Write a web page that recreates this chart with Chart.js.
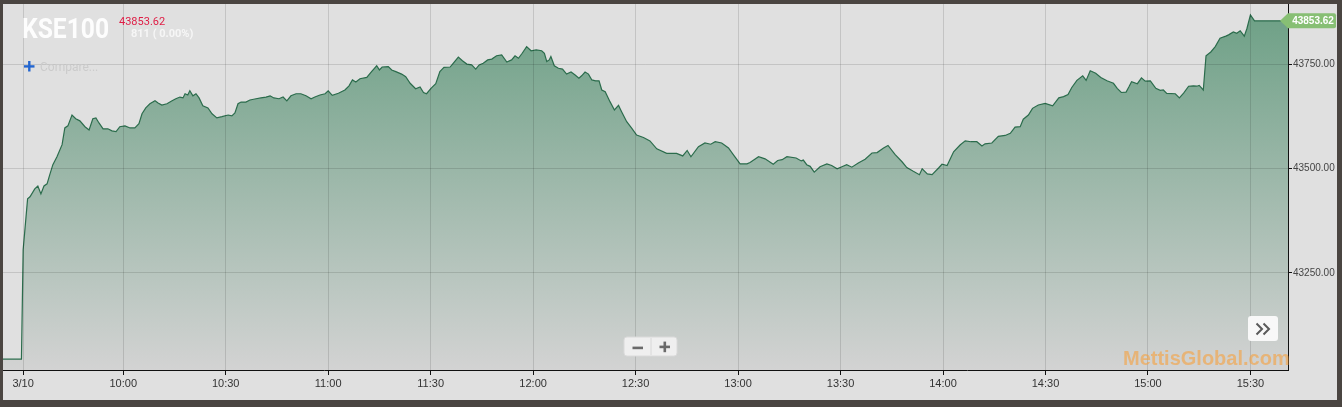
<!DOCTYPE html>
<html lang="en">
<head>
<meta charset="UTF-8">
<title>KSE100</title>
<script src="https://cdn.jsdelivr.net/npm/chart.js"></script>
<style>
    html, body { margin: 0; padding: 0; }
    body {
        width: 1342px;
        height: 407px;
        background: #4a4541;
        overflow: hidden;
        position: relative;
        font-family: 'Liberation Sans', Arial, sans-serif;
    }
    .frame {
        position: absolute;
        left: 3px;
        top: 4px;
        width: 1334px;
        height: 396px;
        background: #e0e0e0;
    }
    .sym {
        position: absolute;
        left: 22px;
        top: 15px;
        font: bold 28px/28px Roboto, sans-serif;
        color: #fdfdfd;
        transform: scaleX(0.88);
        transform-origin: 0 0;
    }
    .price {
        position: absolute;
        left: 119px;
        top: 16px;
        font: 11px/11px Roboto, sans-serif;
        color: #df1d45;
    }
    .change {
        position: absolute;
        left: 131px;
        top: 28px;
        font: bold 11px/11px Roboto, sans-serif;
        color: #f6f6f6;
    }
    .compare {
        position: absolute;
        left: 40px;
        top: 61px;
        font: 12px/12px Roboto, sans-serif;
        color: #cbcbcb;
    }
    .watermark {
        position: absolute;
        left: 1123px;
        top: 348px;
        font: bold 20px/20px 'Liberation Sans', Arial, sans-serif;
        color: rgba(247, 160, 60, 0.6);
    }
    svg { position: absolute; }
</style>
</head>
<body>
<div class="frame"><canvas id="kse"></canvas></div>

<div class="sym">KSE100</div>
<div class="price">43853.62</div>
<div class="change">811 ( 0.00%)</div>
<svg style="left:24px;top:61px" width="11" height="11">
    <rect x="0" y="4.2" width="10.5" height="2.4" fill="#2466d0"/>
    <rect x="4.1" y="0" width="2.4" height="10.5" fill="#2466d0"/>
</svg>
<div class="compare">Compare...</div>

<!-- zoom buttons -->
<svg style="left:622px;top:335px" width="58" height="24">
    <rect x="2" y="2" width="53" height="19" rx="3" fill="#efefef" stroke="#dadada"/>
    <line x1="29" y1="3" x2="29" y2="20" stroke="#d8d8d8"/>
    <rect x="10.5" y="11.6" width="10.5" height="2.6" fill="#6a6a6a"/>
    <rect x="37.5" y="10.6" width="10.5" height="2.6" fill="#6a6a6a"/>
    <rect x="41.5" y="6.6" width="2.6" height="10.6" fill="#6a6a6a"/>
</svg>

<!-- scroll right button -->
<svg style="left:1246px;top:314px" width="34" height="30">
    <rect x="2" y="2" width="30" height="25" rx="3" fill="#f8f8f8"/>
    <polyline points="10.5,9.5 16,15 10.5,20.5" fill="none" stroke="#5a5a5a" stroke-width="2"/>
    <polyline points="17.5,9.5 23,15 17.5,20.5" fill="none" stroke="#5a5a5a" stroke-width="2"/>
</svg>

<div class="watermark">MettisGlobal.com</div>

<script>
    // minutes after 09:00 for each traced tick of the index
    const minutes = [24.8, 30.2, 30.7, 32.0, 32.7, 34.1, 35.0, 35.9, 36.8, 37.7,
        38.5, 39.4, 40.6, 42.1, 42.9, 43.8, 45.0, 46.1, 47.3, 48.8,
        50.0, 51.1, 52.0, 52.9, 54.1, 55.5, 56.7, 57.9, 59.0, 60.5,
        62.0, 63.4, 64.6, 65.5, 66.6, 67.8, 69.3, 70.2, 71.3, 72.8,
        74.3, 75.4, 76.6, 77.5, 78.1, 78.9, 79.5, 80.4, 81.3, 82.2,
        83.3, 84.8, 86.0, 87.4, 88.9, 90.7, 91.8, 92.7, 93.6, 94.5,
        95.9, 97.1, 98.9, 100.3, 101.8, 103.0, 104.1, 105.6, 106.8, 107.9,
        109.1, 110.6, 112.0, 113.5, 115.0, 116.1, 117.6, 119.1, 120.0, 121.2,
        123.0, 124.9, 126.1, 127.1, 128.1, 129.3, 131.3, 132.7, 134.2, 135.0,
        135.8, 137.6, 138.6, 139.8, 141.5, 142.7, 144.0, 145.6, 146.9, 147.9,
        148.8, 150.1, 151.5, 152.7, 153.9, 155.7, 156.6, 158.1, 159.3, 160.6,
        162.0, 163.2, 164.2, 165.4, 166.7, 167.9, 169.3, 170.8, 172.3, 173.7,
        174.7, 175.7, 176.8, 178.1, 179.4, 180.9, 182.5, 183.3, 184.0, 184.7,
        185.2, 186.2, 187.4, 188.6, 189.8, 191.1, 192.3, 193.4, 194.2, 195.2,
        196.2, 197.2, 198.3, 199.3, 200.1, 201.1, 202.5, 203.8, 205.0, 205.9,
        207.4, 208.9, 210.3, 212.3, 214.2, 216.2, 219.1, 222.0, 223.8, 225.1,
        226.2, 228.4, 230.3, 232.0, 233.3, 235.2, 237.2, 238.6, 240.6, 242.6,
        243.5, 246.0, 247.9, 250.3, 251.6, 252.9, 254.3, 257.0, 258.5, 259.1,
        260.1, 261.1, 262.3, 264.0, 266.0, 267.4, 269.0, 270.4, 271.8, 273.3,
        275.2, 277.2, 279.2, 280.7, 282.6, 283.9, 286.0, 288.0, 289.4, 291.3,
        293.1, 293.9, 295.4, 296.8, 298.7, 299.7, 301.2, 303.1, 305.0, 306.5,
        308.2, 309.9, 311.4, 312.3, 314.3, 316.2, 318.2, 319.7, 321.1, 322.6,
        323.5, 325.0, 326.2, 327.9, 329.9, 332.1, 333.9, 335.3, 336.6, 337.7,
        339.2, 340.9, 341.9, 343.1, 344.7, 346.2, 348.0, 349.9, 351.0, 352.2,
        353.6, 354.4, 355.2, 356.9, 358.1, 359.2, 360.7, 362.3, 363.6, 364.5,
        365.5, 368.0, 369.2, 370.5, 371.9, 373.3, 374.3, 375.0, 376.2, 377.0,
        378.4, 379.7, 381.1, 382.8, 383.6, 385.0, 386.0, 387.0, 388.2, 389.0,
        390.0, 391.2, 401.0];

    const kse = [43043, 43043, 43305, 43427, 43432, 43451, 43458, 43439, 43458, 43463,
        43485, 43509, 43528, 43557, 43597, 43602, 43628, 43619, 43614, 43600,
        43592, 43619, 43621, 43609, 43595, 43595, 43590, 43588, 43600, 43602,
        43597, 43597, 43607, 43631, 43645, 43655, 43662, 43657, 43652, 43655,
        43662, 43667, 43671, 43669, 43679, 43676, 43686, 43674, 43679, 43669,
        43650, 43645, 43631, 43621, 43624, 43628, 43626, 43633, 43655, 43659,
        43659, 43664, 43667, 43669, 43671, 43674, 43669, 43667, 43671, 43662,
        43674, 43679, 43679, 43674, 43667, 43671, 43676, 43679, 43686, 43675,
        43680, 43688, 43698, 43712, 43707, 43715, 43718, 43732, 43746, 43736,
        43743, 43744, 43736, 43732, 43726, 43720, 43704, 43691, 43695, 43682,
        43679, 43692, 43703, 43732, 43742, 43743, 43752, 43767, 43758, 43750,
        43748, 43738, 43748, 43752, 43760, 43762, 43770, 43772, 43755, 43760,
        43770, 43764, 43776, 43792, 43782, 43784, 43782, 43776, 43756, 43760,
        43768, 43746, 43740, 43738, 43726, 43731, 43724, 43716, 43722, 43731,
        43726, 43712, 43710, 43710, 43688, 43684, 43660, 43640, 43651, 43636,
        43612, 43596, 43580, 43574, 43566, 43547, 43536, 43536, 43530, 43543,
        43528, 43552, 43561, 43558, 43564, 43561, 43549, 43533, 43511, 43511,
        43514, 43528, 43523, 43510, 43519, 43521, 43528, 43525, 43518, 43520,
        43509, 43505, 43491, 43504, 43511, 43507, 43499, 43504, 43509, 43503,
        43513, 43522, 43537, 43538, 43549, 43555, 43533, 43516, 43502, 43493,
        43485, 43499, 43487, 43485, 43501, 43510, 43507, 43540, 43556, 43566,
        43564, 43564, 43554, 43559, 43561, 43577, 43579, 43584, 43599, 43600,
        43618, 43628, 43644, 43652, 43656, 43650, 43669, 43672, 43677, 43694,
        43711, 43722, 43711, 43734, 43728, 43718, 43710, 43704, 43692, 43682,
        43683, 43695, 43708, 43703, 43717, 43709, 43710, 43692, 43687, 43688,
        43680, 43679, 43669, 43681, 43697, 43698, 43697, 43699, 43688, 43770,
        43779, 43792, 43812, 43817, 43820, 43827, 43824, 43830, 43817, 43836,
        43868, 43853.62, 43853.62];

    const tickMinutes = [30.7, 60, 90, 120, 150, 180, 210, 240, 270, 300, 330, 360, 390];
    const tickLabels = ['3/10', '10:00', '10:30', '11:00', '11:30', '12:00', '12:30',
        '13:00', '13:30', '14:00', '14:30', '15:00', '15:30'];
    const yTicks = [43250, 43500, 43750];

    const points = minutes.map((m, i) => ({ x: m, y: kse[i] }));
    const lastValue = kse[kse.length - 1];

    // green price tag on the right axis
    const lastTag = {
        id: 'lastTag',
        afterDraw(chart) {
            const { ctx, chartArea, scales } = chart;
            const y = scales.y.getPixelForValue(lastValue);
            const x0 = chartArea.right - 8, x1 = chartArea.right, x2 = chart.width - 1;
            const h = 7.5;
            ctx.save();
            ctx.fillStyle = '#87bf74';
            ctx.beginPath();
            ctx.moveTo(x0, y);
            ctx.lineTo(x1, y - h);
            ctx.lineTo(x2 - 2, y - h);
            ctx.quadraticCurveTo(x2, y - h, x2, y - h + 2);
            ctx.lineTo(x2, y + h - 2);
            ctx.quadraticCurveTo(x2, y + h, x2 - 2, y + h);
            ctx.lineTo(x1, y + h);
            ctx.closePath();
            ctx.fill();
            ctx.fillStyle = '#ffffff';
            ctx.font = 'bold 10px "Liberation Sans", Arial, sans-serif';
            ctx.textAlign = 'center';
            ctx.textBaseline = 'middle';
            ctx.fillText(lastValue.toFixed(2), (x1 + x2) / 2 + 1, y + 0.5);
            ctx.restore();
        }
    };

    new Chart(document.getElementById('kse'), {
        type: 'line',
        data: {
            datasets: [{
                data: points,
                borderColor: '#2b6c4c',
                borderWidth: 1.2,
                pointRadius: 0,
                tension: 0,
                fill: 'start',
                backgroundColor: c => {
                    const ca = c.chart.chartArea;
                    if (!ca) return 'rgba(0,0,0,0)';
                    const g = c.chart.ctx.createLinearGradient(0, ca.top, 0, ca.bottom);
                    g.addColorStop(0, '#6b9f84');
                    g.addColorStop(1, '#d3d3d3');
                    return g;
                }
            }]
        },
        options: {
            animation: false,
            responsive: true,
            maintainAspectRatio: false,
            layout: { padding: 0 },
            plugins: {
                legend: { display: false },
                tooltip: { enabled: false }
            },
            scales: {
                x: {
                    type: 'linear',
                    min: 24.8,
                    max: 401,
                    afterBuildTicks: s => { s.ticks = tickMinutes.map(v => ({ value: v })); },
                    afterFit: s => { s.height = 30; },
                    grid: { color: 'rgba(0,0,0,0.12)', z: 1, tickLength: 5, tickColor: '#111' },
                    border: { color: '#111', width: 1, z: 1 },
                    ticks: {
                        callback: (v, i) => tickLabels[i],
                        color: '#333',
                        font: { family: 'Liberation Sans', size: 11 },
                        padding: 2,
                        maxRotation: 0,
                        autoSkip: false
                    }
                },
                y: {
                    position: 'right',
                    min: 43017,
                    max: 43894,
                    afterBuildTicks: s => { s.ticks = yTicks.map(v => ({ value: v })); },
                    afterFit: s => {
                        s.width = 49;
                        s.paddingTop = 0;
                        s.paddingBottom = 0;
                    },
                    grid: { color: 'rgba(0,0,0,0.12)', z: 1, tickLength: 4, tickColor: '#111' },
                    border: { color: '#111', width: 1, z: 1 },
                    ticks: {
                        callback: v => v.toFixed(2),
                        color: '#444',
                        font: { family: 'Liberation Sans', size: 10 },
                        padding: 1
                    }
                }
            }
        },
        plugins: [lastTag]
    });
</script>
</body>
</html>
